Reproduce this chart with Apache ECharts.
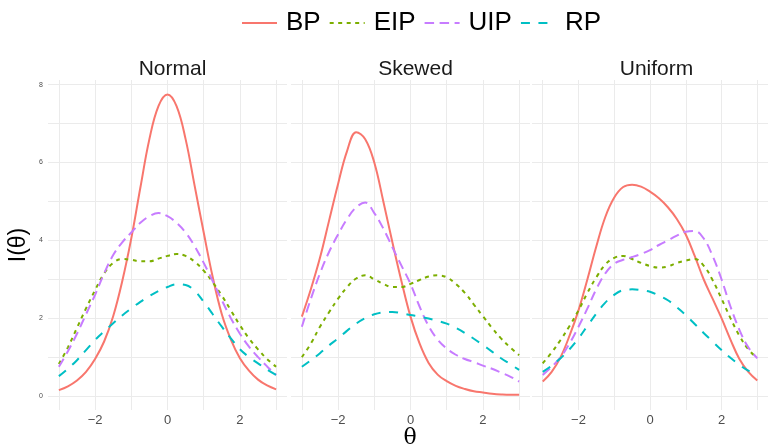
<!DOCTYPE html>
<html>
<head>
<meta charset="utf-8">
<script src="https://cdn.jsdelivr.net/npm/echarts@6/dist/echarts.min.js"></script>
<style>
  html, body { margin: 0; padding: 0; background: #fff; }
  #chart { width: 768px; height: 445px; }
</style>
</head>
<body>
<div id="chart"></div>
<script>
// θ 取值（所有面板共用）
const theta = [-3, -2.75, -2.5, -2.25, -2, -1.75, -1.5, -1.25, -1, -0.75, -0.5, -0.25, 0,
    0.25, 0.5, 0.75, 1, 1.25, 1.5, 1.75, 2, 2.25, 2.5, 2.75, 3];

const methods = ['BP', 'EIP', 'UIP', 'RP'];
const panels = ['Normal', 'Skewed', 'Uniform'];
// 网格线与刻度标签
const xGridValues = [-3, -2, -1, 0, 1, 2, 3];
const xTickLabels = [-2, 0, 2];
const yGridValues = [0, 1, 2, 3, 4, 5, 6, 7, 8];
const yTickLabels = [0, 2, 4, 6, 8];

// Normal
const bpNormal = [0.15, 0.25, 0.40, 0.62, 0.95, 1.40, 2.05, 2.95, 4.05, 5.35, 6.60, 7.45, 7.75,
    7.45, 6.60, 5.40, 4.20, 3.05, 2.10, 1.45, 0.97, 0.65, 0.42, 0.27, 0.17];
const eipNormal = [0.82, 1.25, 1.75, 2.25, 2.72, 3.15, 3.42, 3.52, 3.50, 3.46, 3.46, 3.53, 3.60,
    3.65, 3.60, 3.45, 3.22, 2.92, 2.58, 2.20, 1.82, 1.48, 1.20, 0.95, 0.75];
const uipNormal = [0.75, 1.15, 1.60, 2.10, 2.60, 3.15, 3.62, 3.95, 4.20, 4.45, 4.62, 4.70, 4.62,
    4.45, 4.20, 3.85, 3.42, 2.95, 2.46, 2.00, 1.60, 1.27, 1.00, 0.76, 0.54];
const rpNormal = [0.51, 0.70, 0.92, 1.18, 1.44, 1.66, 1.87, 2.07, 2.25, 2.42, 2.57, 2.70, 2.80,
    2.87, 2.85, 2.70, 2.42, 2.10, 1.78, 1.48, 1.20, 1.00, 0.84, 0.68, 0.54];

// Skewed
const bpSkewed = [2.04, 2.75, 3.55, 4.50, 5.45, 6.30, 6.78, 6.60, 6.00, 5.00, 3.95, 2.95, 2.04,
    1.35, 0.85, 0.55, 0.38, 0.26, 0.18, 0.12, 0.09, 0.06, 0.04, 0.03, 0.03];
const eipSkewed = [1.00, 1.35, 1.78, 2.15, 2.50, 2.80, 3.02, 3.10, 3.00, 2.88, 2.80, 2.80, 2.88,
    2.98, 3.07, 3.10, 3.05, 2.88, 2.65, 2.35, 2.05, 1.75, 1.48, 1.25, 1.05];
const uipSkewed = [1.78, 2.50, 3.15, 3.70, 4.15, 4.55, 4.85, 4.97, 4.70, 4.30, 3.82, 3.35, 2.88,
    2.30, 1.80, 1.45, 1.22, 1.06, 0.95, 0.87, 0.78, 0.70, 0.60, 0.50, 0.37];
const rpSkewed = [0.75, 0.92, 1.10, 1.30, 1.48, 1.68, 1.86, 2.00, 2.10, 2.15, 2.16, 2.13, 2.08,
    2.04, 1.99, 1.93, 1.86, 1.75, 1.62, 1.47, 1.31, 1.14, 0.97, 0.82, 0.67];

// Uniform
const bpUniform = [0.37, 0.62, 1.00, 1.55, 2.20, 3.00, 3.85, 4.60, 5.10, 5.37, 5.43, 5.38, 5.25,
    5.08, 4.85, 4.55, 4.15, 3.60, 3.00, 2.50, 2.00, 1.45, 0.95, 0.62, 0.40];
const eipUniform = [0.84, 1.12, 1.44, 1.80, 2.20, 2.65, 3.05, 3.38, 3.55, 3.60, 3.52, 3.42, 3.34,
    3.30, 3.33, 3.42, 3.48, 3.52, 3.35, 2.98, 2.50, 2.00, 1.55, 1.20, 0.97];
const uipUniform = [0.54, 0.75, 1.00, 1.35, 1.78, 2.25, 2.75, 3.15, 3.40, 3.50, 3.57, 3.65, 3.75,
    3.88, 4.00, 4.12, 4.22, 4.24, 4.05, 3.60, 3.00, 2.30, 1.70, 1.25, 0.97];
const rpUniform = [0.62, 0.78, 0.97, 1.20, 1.48, 1.80, 2.12, 2.40, 2.60, 2.72, 2.74, 2.72, 2.68,
    2.58, 2.46, 2.28, 2.08, 1.85, 1.62, 1.40, 1.18, 0.98, 0.80, 0.65, 0.57];

const panelData = [
    [bpNormal, eipNormal, uipNormal, rpNormal],
    [bpSkewed, eipSkewed, uipSkewed, rpSkewed],
    [bpUniform, eipUniform, uipUniform, rpUniform]
];

// ggplot 默认配色 + 线型
const colors = ['#F8766D', '#7CAE00', '#C77CFF', '#00BFC4'];
const dashes = ['solid', [4, 4.5], [9.5, 5.5], [9, 8.5]];

const FONT = 'Liberation Sans';
const panelLeft = [48, 291, 532];
const panelWidth = 239;
const panelTop = 80;
const panelHeight = 330;

const grids = panelLeft.map((l) => ({ left: l, top: panelTop, width: panelWidth, height: panelHeight }));

const xAxes = panelLeft.map((l, i) => ({
    type: 'value',
    gridIndex: i,
    min: -3.3,
    max: 3.3,
    axisLine: { show: false },
    axisTick: { show: false, customValues: xGridValues },
    splitLine: { show: true, lineStyle: { color: '#ebebeb', width: 1 } },
    axisLabel: {
        customValues: xTickLabels,
        margin: 4,
        fontFamily: FONT,
        fontSize: 13,
        color: '#4d4d4d',
        formatter: (v) => String(v).replace('-', '\u2212')
    }
}));

const yAxes = panelLeft.map((l, i) => ({
    type: 'value',
    gridIndex: i,
    min: -0.36,
    max: 8.12,
    axisLine: { show: false },
    axisTick: { show: false, customValues: yGridValues },
    splitLine: { show: true, lineStyle: { color: '#ebebeb', width: 1 } },
    axisLabel: {
        show: i === 0,
        customValues: yTickLabels,
        margin: 5,
        fontFamily: FONT,
        fontSize: 7,
        color: '#4d4d4d'
    }
}));

const series = [];
panelData.forEach((lines, p) => {
    lines.forEach((vals, m) => {
        series.push({
            type: 'line',
            name: methods[m],
            xAxisIndex: p,
            yAxisIndex: p,
            symbol: 'none',
            smooth: 0.4,
            data: theta.map((t, k) => [t, vals[k]]),
            itemStyle: { color: colors[m] },
            lineStyle: { color: colors[m], width: 2, type: dashes[m] }
        });
    });
});

// 分面标题
const titles = panels.map((name, i) => ({
    text: name,
    left: panelLeft[i] + panelWidth / 2,
    top: 54,
    textAlign: 'center',
    textStyle: { fontFamily: FONT, fontSize: 21, fontWeight: 'normal', color: '#1a1a1a' }
}));

const chart = echarts.init(document.getElementById('chart'));
chart.setOption({
    animation: false,
    backgroundColor: '#ffffff',
    title: titles,
    legend: {
        data: methods,
        top: 5,
        left: 236,
        itemWidth: 35,
        itemHeight: 20,
        itemGap: 8,
        itemStyle: { opacity: 0 },
        textStyle: { fontFamily: FONT, fontSize: 26, color: '#000', padding: [0, 0, 0, 4] }
    },
    grid: grids,
    xAxis: xAxes,
    yAxis: yAxes,
    series: series,
    graphic: [
        {
            type: 'text',
            x: 19,
            y: 245,
            rotation: Math.PI / 2,
            style: { text: 'I(\u03b8)', fontFamily: FONT, fontSize: 23, fill: '#000', align: 'center', verticalAlign: 'middle' }
        },
        {
            type: 'text',
            x: 410,
            y: 438,
            style: { text: '\u03b8', fontFamily: 'DejaVu Serif', fontSize: 22, fill: '#000', align: 'center', verticalAlign: 'middle' }
        }
    ]
});
</script>
</body>
</html>
